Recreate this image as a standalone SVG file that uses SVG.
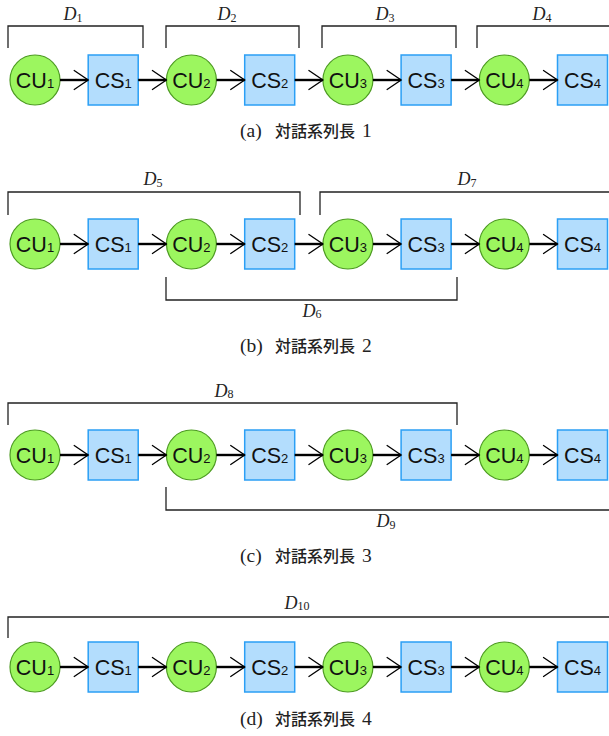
<svg xmlns="http://www.w3.org/2000/svg" width="609" height="736" viewBox="0 0 609 736">
  <style>
    .cu { fill: #9cf65f; stroke: #4d9b22; stroke-width: 1.2; }
    .cs { fill: #b3ddfd; stroke: #2b9ff5; stroke-width: 1.5; }
    .lbl { font-family: "Liberation Sans", Arial, sans-serif; font-size: 21.5px; text-anchor: middle; fill: #111; }
    .sub { font-size: 13px; }
    .edge { stroke: #000; stroke-width: 2.4; fill: none; marker-end: url(#to); }
    .span { fill: none; stroke: #222; stroke-width: 1.3; }
    .dl { font-family: "Liberation Serif", "DejaVu Serif", serif; font-style: italic; font-size: 18px; text-anchor: middle; fill: #222; }
    .dsub { font-style: normal; font-size: 12px; }
    .cap { font-family: "Liberation Serif", serif; font-size: 19.5px; fill: #222; }
    .jp { font-family: "Noto Sans CJK JP", "Noto Sans CJK SC", sans-serif; font-size: 16px; font-weight: 500; }
  </style>
  <defs>
    <marker id="to" markerUnits="userSpaceOnUse" markerWidth="20" markerHeight="24" viewBox="-16 -12 20 24" refX="0" refY="0" orient="auto">
      <path d="M-14,-9.5 L0,0 L-14,9.5" fill="none" stroke="#000" stroke-width="1.3" stroke-linecap="round"/>
    </marker>
  </defs>

  <!-- (a) dialogue length 1 -->
  <g id="nodes-a">
    <g id="a-cu1"><circle class="cu" cx="35" cy="80" r="25"/><text class="lbl" x="35" y="87.5">CU<tspan class="sub">1</tspan></text></g>
    <g id="a-cs1"><rect class="cs" x="88.2" y="55" width="50" height="50"/><text class="lbl" x="113.2" y="87.5">CS<tspan class="sub">1</tspan></text></g>
    <g id="a-cu2"><circle class="cu" cx="191.4" cy="80" r="25"/><text class="lbl" x="191.4" y="87.5">CU<tspan class="sub">2</tspan></text></g>
    <g id="a-cs2"><rect class="cs" x="244.7" y="55" width="50" height="50"/><text class="lbl" x="269.7" y="87.5">CS<tspan class="sub">2</tspan></text></g>
    <g id="a-cu3"><circle class="cu" cx="347.9" cy="80" r="25"/><text class="lbl" x="347.9" y="87.5">CU<tspan class="sub">3</tspan></text></g>
    <g id="a-cs3"><rect class="cs" x="401.1" y="55" width="50" height="50"/><text class="lbl" x="426.1" y="87.5">CS<tspan class="sub">3</tspan></text></g>
    <g id="a-cu4"><circle class="cu" cx="504.3" cy="80" r="25"/><text class="lbl" x="504.3" y="87.5">CU<tspan class="sub">4</tspan></text></g>
    <g id="a-cs4"><rect class="cs" x="557.5" y="55" width="50" height="50"/><text class="lbl" x="582.5" y="87.5">CS<tspan class="sub">4</tspan></text></g>
  </g>
  <g id="edges-a">
    <path class="edge" d="M60,80 H88.2"/>
    <path class="edge" d="M138.2,80 H166.4"/>
    <path class="edge" d="M216.4,80 H244.7"/>
    <path class="edge" d="M294.7,80 H322.9"/>
    <path class="edge" d="M372.9,80 H401.1"/>
    <path class="edge" d="M451.1,80 H479.3"/>
    <path class="edge" d="M529.3,80 H557.5"/>
  </g>
  <g id="spans-a">
    <path class="span" d="M8,48 V26 H143 V48"/>
    <path class="span" d="M166,48 V26 H299 V48"/>
    <path class="span" d="M322,48 V26 H456 V48"/>
    <path class="span" d="M477,48 V26 H612"/>
    <text class="dl" x="73" y="20">D<tspan class="dsub" dy="2">1</tspan></text>
    <text class="dl" x="227" y="20">D<tspan class="dsub" dy="2">2</tspan></text>
    <text class="dl" x="385" y="20">D<tspan class="dsub" dy="2">3</tspan></text>
    <text class="dl" x="542" y="20">D<tspan class="dsub" dy="2">4</tspan></text>
  </g>
  <text class="cap" y="137"><tspan x="240">(a)</tspan><tspan class="jp" x="275">対話系列長</tspan><tspan x="362">1</tspan></text>

  <!-- (b) dialogue length 2 -->
  <g id="nodes-b">
    <g id="b-cu1"><circle class="cu" cx="35" cy="244" r="25"/><text class="lbl" x="35" y="251.5">CU<tspan class="sub">1</tspan></text></g>
    <g id="b-cs1"><rect class="cs" x="88.2" y="219" width="50" height="50"/><text class="lbl" x="113.2" y="251.5">CS<tspan class="sub">1</tspan></text></g>
    <g id="b-cu2"><circle class="cu" cx="191.4" cy="244" r="25"/><text class="lbl" x="191.4" y="251.5">CU<tspan class="sub">2</tspan></text></g>
    <g id="b-cs2"><rect class="cs" x="244.7" y="219" width="50" height="50"/><text class="lbl" x="269.7" y="251.5">CS<tspan class="sub">2</tspan></text></g>
    <g id="b-cu3"><circle class="cu" cx="347.9" cy="244" r="25"/><text class="lbl" x="347.9" y="251.5">CU<tspan class="sub">3</tspan></text></g>
    <g id="b-cs3"><rect class="cs" x="401.1" y="219" width="50" height="50"/><text class="lbl" x="426.1" y="251.5">CS<tspan class="sub">3</tspan></text></g>
    <g id="b-cu4"><circle class="cu" cx="504.3" cy="244" r="25"/><text class="lbl" x="504.3" y="251.5">CU<tspan class="sub">4</tspan></text></g>
    <g id="b-cs4"><rect class="cs" x="557.5" y="219" width="50" height="50"/><text class="lbl" x="582.5" y="251.5">CS<tspan class="sub">4</tspan></text></g>
  </g>
  <g id="edges-b">
    <path class="edge" d="M60,244 H88.2"/>
    <path class="edge" d="M138.2,244 H166.4"/>
    <path class="edge" d="M216.4,244 H244.7"/>
    <path class="edge" d="M294.7,244 H322.9"/>
    <path class="edge" d="M372.9,244 H401.1"/>
    <path class="edge" d="M451.1,244 H479.3"/>
    <path class="edge" d="M529.3,244 H557.5"/>
  </g>
  <g id="spans-b">
    <path class="span" d="M8,215 V192 H300 V215"/>
    <path class="span" d="M320,215 V192 H612"/>
    <path class="span" d="M166,277 V300 H457 V277"/>
    <text class="dl" x="153" y="185">D<tspan class="dsub" dy="2">5</tspan></text>
    <text class="dl" x="467" y="185">D<tspan class="dsub" dy="2">7</tspan></text>
    <text class="dl" x="312" y="317">D<tspan class="dsub" dy="1">6</tspan></text>
  </g>
  <text class="cap" y="352"><tspan x="240">(b)</tspan><tspan class="jp" x="275">対話系列長</tspan><tspan x="362">2</tspan></text>

  <!-- (c) dialogue length 3 -->
  <g id="nodes-c">
    <g id="c-cu1"><circle class="cu" cx="35" cy="455" r="25"/><text class="lbl" x="35" y="462.5">CU<tspan class="sub">1</tspan></text></g>
    <g id="c-cs1"><rect class="cs" x="88.2" y="430" width="50" height="50"/><text class="lbl" x="113.2" y="462.5">CS<tspan class="sub">1</tspan></text></g>
    <g id="c-cu2"><circle class="cu" cx="191.4" cy="455" r="25"/><text class="lbl" x="191.4" y="462.5">CU<tspan class="sub">2</tspan></text></g>
    <g id="c-cs2"><rect class="cs" x="244.7" y="430" width="50" height="50"/><text class="lbl" x="269.7" y="462.5">CS<tspan class="sub">2</tspan></text></g>
    <g id="c-cu3"><circle class="cu" cx="347.9" cy="455" r="25"/><text class="lbl" x="347.9" y="462.5">CU<tspan class="sub">3</tspan></text></g>
    <g id="c-cs3"><rect class="cs" x="401.1" y="430" width="50" height="50"/><text class="lbl" x="426.1" y="462.5">CS<tspan class="sub">3</tspan></text></g>
    <g id="c-cu4"><circle class="cu" cx="504.3" cy="455" r="25"/><text class="lbl" x="504.3" y="462.5">CU<tspan class="sub">4</tspan></text></g>
    <g id="c-cs4"><rect class="cs" x="557.5" y="430" width="50" height="50"/><text class="lbl" x="582.5" y="462.5">CS<tspan class="sub">4</tspan></text></g>
  </g>
  <g id="edges-c">
    <path class="edge" d="M60,455 H88.2"/>
    <path class="edge" d="M138.2,455 H166.4"/>
    <path class="edge" d="M216.4,455 H244.7"/>
    <path class="edge" d="M294.7,455 H322.9"/>
    <path class="edge" d="M372.9,455 H401.1"/>
    <path class="edge" d="M451.1,455 H479.3"/>
    <path class="edge" d="M529.3,455 H557.5"/>
  </g>
  <g id="spans-c">
    <path class="span" d="M8,425 V403 H457 V425"/>
    <path class="span" d="M166,487 V510 H612"/>
    <text class="dl" x="224" y="397">D<tspan class="dsub" dy="1">8</tspan></text>
    <text class="dl" x="386" y="527">D<tspan class="dsub" dy="2">9</tspan></text>
  </g>
  <text class="cap" y="562"><tspan x="240">(c)</tspan><tspan class="jp" x="275">対話系列長</tspan><tspan x="362">3</tspan></text>

  <!-- (d) dialogue length 4 -->
  <g id="nodes-d">
    <g id="d-cu1"><circle class="cu" cx="35" cy="667" r="25"/><text class="lbl" x="35" y="674.5">CU<tspan class="sub">1</tspan></text></g>
    <g id="d-cs1"><rect class="cs" x="88.2" y="642" width="50" height="50"/><text class="lbl" x="113.2" y="674.5">CS<tspan class="sub">1</tspan></text></g>
    <g id="d-cu2"><circle class="cu" cx="191.4" cy="667" r="25"/><text class="lbl" x="191.4" y="674.5">CU<tspan class="sub">2</tspan></text></g>
    <g id="d-cs2"><rect class="cs" x="244.7" y="642" width="50" height="50"/><text class="lbl" x="269.7" y="674.5">CS<tspan class="sub">2</tspan></text></g>
    <g id="d-cu3"><circle class="cu" cx="347.9" cy="667" r="25"/><text class="lbl" x="347.9" y="674.5">CU<tspan class="sub">3</tspan></text></g>
    <g id="d-cs3"><rect class="cs" x="401.1" y="642" width="50" height="50"/><text class="lbl" x="426.1" y="674.5">CS<tspan class="sub">3</tspan></text></g>
    <g id="d-cu4"><circle class="cu" cx="504.3" cy="667" r="25"/><text class="lbl" x="504.3" y="674.5">CU<tspan class="sub">4</tspan></text></g>
    <g id="d-cs4"><rect class="cs" x="557.5" y="642" width="50" height="50"/><text class="lbl" x="582.5" y="674.5">CS<tspan class="sub">4</tspan></text></g>
  </g>
  <g id="edges-d">
    <path class="edge" d="M60,667 H88.2"/>
    <path class="edge" d="M138.2,667 H166.4"/>
    <path class="edge" d="M216.4,667 H244.7"/>
    <path class="edge" d="M294.7,667 H322.9"/>
    <path class="edge" d="M372.9,667 H401.1"/>
    <path class="edge" d="M451.1,667 H479.3"/>
    <path class="edge" d="M529.3,667 H557.5"/>
  </g>
  <g id="spans-d">
    <path class="span" d="M8,638 V617 H612"/>
    <text class="dl" x="297" y="609">D<tspan class="dsub" dy="1">10</tspan></text>
  </g>
  <text class="cap" y="725"><tspan x="240">(d)</tspan><tspan class="jp" x="275">対話系列長</tspan><tspan x="362">4</tspan></text>
</svg>
